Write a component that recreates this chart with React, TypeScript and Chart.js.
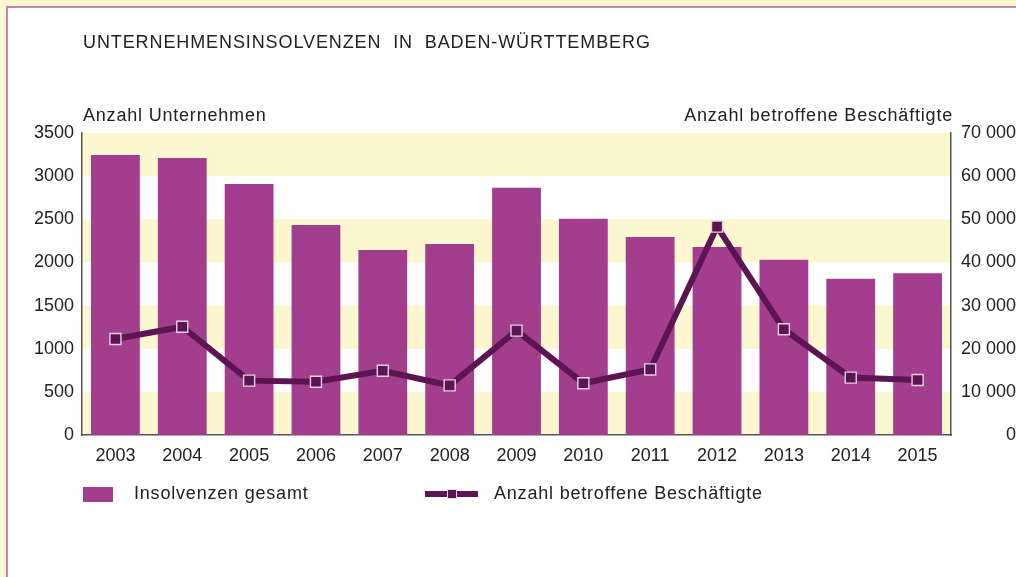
import React, { useEffect, useRef } from "react";
import { Chart, registerables } from "chart.js";

Chart.register(...registerables);

const years = ["2003", "2004", "2005", "2006", "2007", "2008", "2009", "2010", "2011", "2012", "2013", "2014", "2015"];
const insolvenzen = [3245, 3210, 2910, 2435, 2145, 2215, 2865, 2505, 2295, 2180, 2030, 1810, 1875];
const beschaeftigte = [22250, 25100, 12600, 12350, 14900, 11500, 24200, 12000, 15200, 48300, 24500, 13300, 12750];
const leftTicks = [0, 500, 1000, 1500, 2000, 2500, 3000, 3500];
const rightTicks = [0, 10000, 20000, 30000, 40000, 50000, 60000, 70000];
const bandStarts = [0, 1000, 2000, 3000];

const title = "UNTERNEHMENSINSOLVENZEN  IN  BADEN-WÜRTTEMBERG";
const leftAxisTitle = "Anzahl Unternehmen";
const rightAxisTitle = "Anzahl betroffene Beschäftigte";
const barLabel = "Insolvenzen gesamt";
const lineLabel = "Anzahl betroffene Beschäftigte";

const FONT = "'Liberation Sans', Arial, Helvetica, sans-serif";
const CREAM = "#fdf7d0";
const BAR = "#a33d8e";
const LINE = "#5c1552";
const TEXT = "#222222";
const AXIS = "#555555";

function fmtSpace(v: number): string {
  const s = String(Math.round(v));
  return s.replace(/\B(?=(\d{3})+(?!\d))/g, " ");
}

const decorPlugin = {
  id: "decor",
  beforeDraw(chart: any) {
    const { ctx, chartArea, scales } = chart;
    const y = scales.y;
    ctx.save();
    ctx.fillStyle = CREAM;
    for (const b of bandStarts) {
      const top = y.getPixelForValue(b + 500);
      const bot = y.getPixelForValue(b);
      ctx.fillRect(chartArea.left, top, chartArea.right - chartArea.left, bot - top);
    }
    ctx.restore();
  },
  afterDraw(chart: any) {
    const { ctx, chartArea } = chart;
    const L = chartArea.left;
    ctx.save();
    ctx.fillStyle = TEXT;
    ctx.textBaseline = "alphabetic";
    (ctx as any).letterSpacing = "0.9px";
    ctx.font = `18px ${FONT}`;
    ctx.textAlign = "left";
    ctx.fillText(title, L + 1, 40);
    (ctx as any).letterSpacing = "0.8px";
    ctx.fillText(leftAxisTitle, L + 1, 113);
    ctx.textAlign = "right";
    ctx.fillText(rightAxisTitle, chartArea.right + 2, 113);

    // legend
    const ly = 486;
    ctx.fillStyle = BAR;
    ctx.fillRect(L + 1, ly - 7, 30, 15);
    ctx.fillStyle = TEXT;
    ctx.textAlign = "left";
    ctx.textBaseline = "middle";
    ctx.fillText(barLabel, L + 52, ly);

    ctx.strokeStyle = LINE;
    ctx.lineWidth = 6;
    ctx.beginPath();
    ctx.moveTo(L + 343, ly);
    ctx.lineTo(L + 396, ly);
    ctx.stroke();
    ctx.fillStyle = LINE;
    ctx.fillRect(L + 365, ly - 5, 10, 10);
    ctx.strokeStyle = "#e2d3df";
    ctx.lineWidth = 1;
    ctx.strokeRect(L + 365.5, ly - 4.5, 9, 9);
    ctx.fillStyle = TEXT;
    ctx.fillText(lineLabel, L + 412, ly);
    ctx.restore();
  },
};

export default function App() {
  const ref = useRef<HTMLCanvasElement | null>(null);

  useEffect(() => {
    if (!ref.current) return;
    Chart.defaults.font.family = FONT;
    Chart.defaults.font.size = 18;
    Chart.defaults.color = TEXT;
    const chart = new Chart(ref.current, {
      data: {
        labels: years,
        datasets: [
          {
            type: "line",
            label: lineLabel,
            data: beschaeftigte,
            yAxisID: "y1",
            order: 1,
            borderColor: LINE,
            borderWidth: 6,
            tension: 0,
            pointStyle: "rect",
            pointRadius: 7.8,
            pointBackgroundColor: LINE,
            pointBorderColor: "#e2d3df",
            pointBorderWidth: 1.4,
          } as any,
          {
            type: "bar",
            label: barLabel,
            data: insolvenzen,
            yAxisID: "y",
            order: 2,
            backgroundColor: BAR,
            borderWidth: 0,
            barPercentage: 0.73,
            categoryPercentage: 1,
          } as any,
        ],
      },
      options: {
        responsive: false,
        animation: false,
        events: [],
        layout: { padding: { top: 125, bottom: 102, left: 0, right: 0 } },
        plugins: {
          legend: { display: false },
          tooltip: { enabled: false },
          title: { display: false },
        },
        scales: {
          x: {
            grid: { display: false, drawTicks: false },
            border: { display: true, color: AXIS, width: 1.5 },
            ticks: { padding: 10, font: { size: 18 }, color: TEXT, maxRotation: 0 },
            afterFit(scale: any) {
              scale.height = 40;
            },
          },
          y: {
            position: "left",
            min: 0,
            max: 3500,
            afterBuildTicks(scale: any) {
              scale.ticks = leftTicks.map((v) => ({ value: v }));
            },
            grid: { display: false, drawTicks: false },
            border: { display: true, color: AXIS, width: 1.5 },
            ticks: {
              padding: 8,
              color: TEXT,
              font: { size: 18 },
              callback: (v: any) => String(v),
            },
            afterFit(scale: any) {
              scale.width = 74;
            },
          },
          y1: {
            position: "right",
            min: 0,
            max: 70000,
            afterBuildTicks(scale: any) {
              scale.ticks = rightTicks.map((v) => ({ value: v }));
            },
            grid: { display: false, drawTicks: false },
            border: { display: true, color: AXIS, width: 1.5 },
            ticks: {
              padding: 8,
              color: TEXT,
              font: { size: 18 },
              crossAlign: "far",
              callback: (v: any) => fmtSpace(Number(v)),
            },
            afterFit(scale: any) {
              scale.width = 65;
            },
          },
        },
      } as any,
      plugins: [decorPlugin],
    });
    return () => chart.destroy();
  }, []);

  return (
    <div style={{ position: "fixed", left: 0, top: 0, width: 1016, height: 577, background: CREAM, overflow: "hidden" }}>
      <div
        style={{
          position: "absolute",
          left: 6,
          top: 6,
          right: 0,
          bottom: 0,
          background: "#ffffff",
          borderLeft: "2px solid #c783b8",
          borderTop: "2px solid #c783b8",
        }}
      >
        <canvas ref={ref} width={1008} height={569} style={{ display: "block", width: 1008, height: 569 }} />
      </div>
    </div>
  );
}
